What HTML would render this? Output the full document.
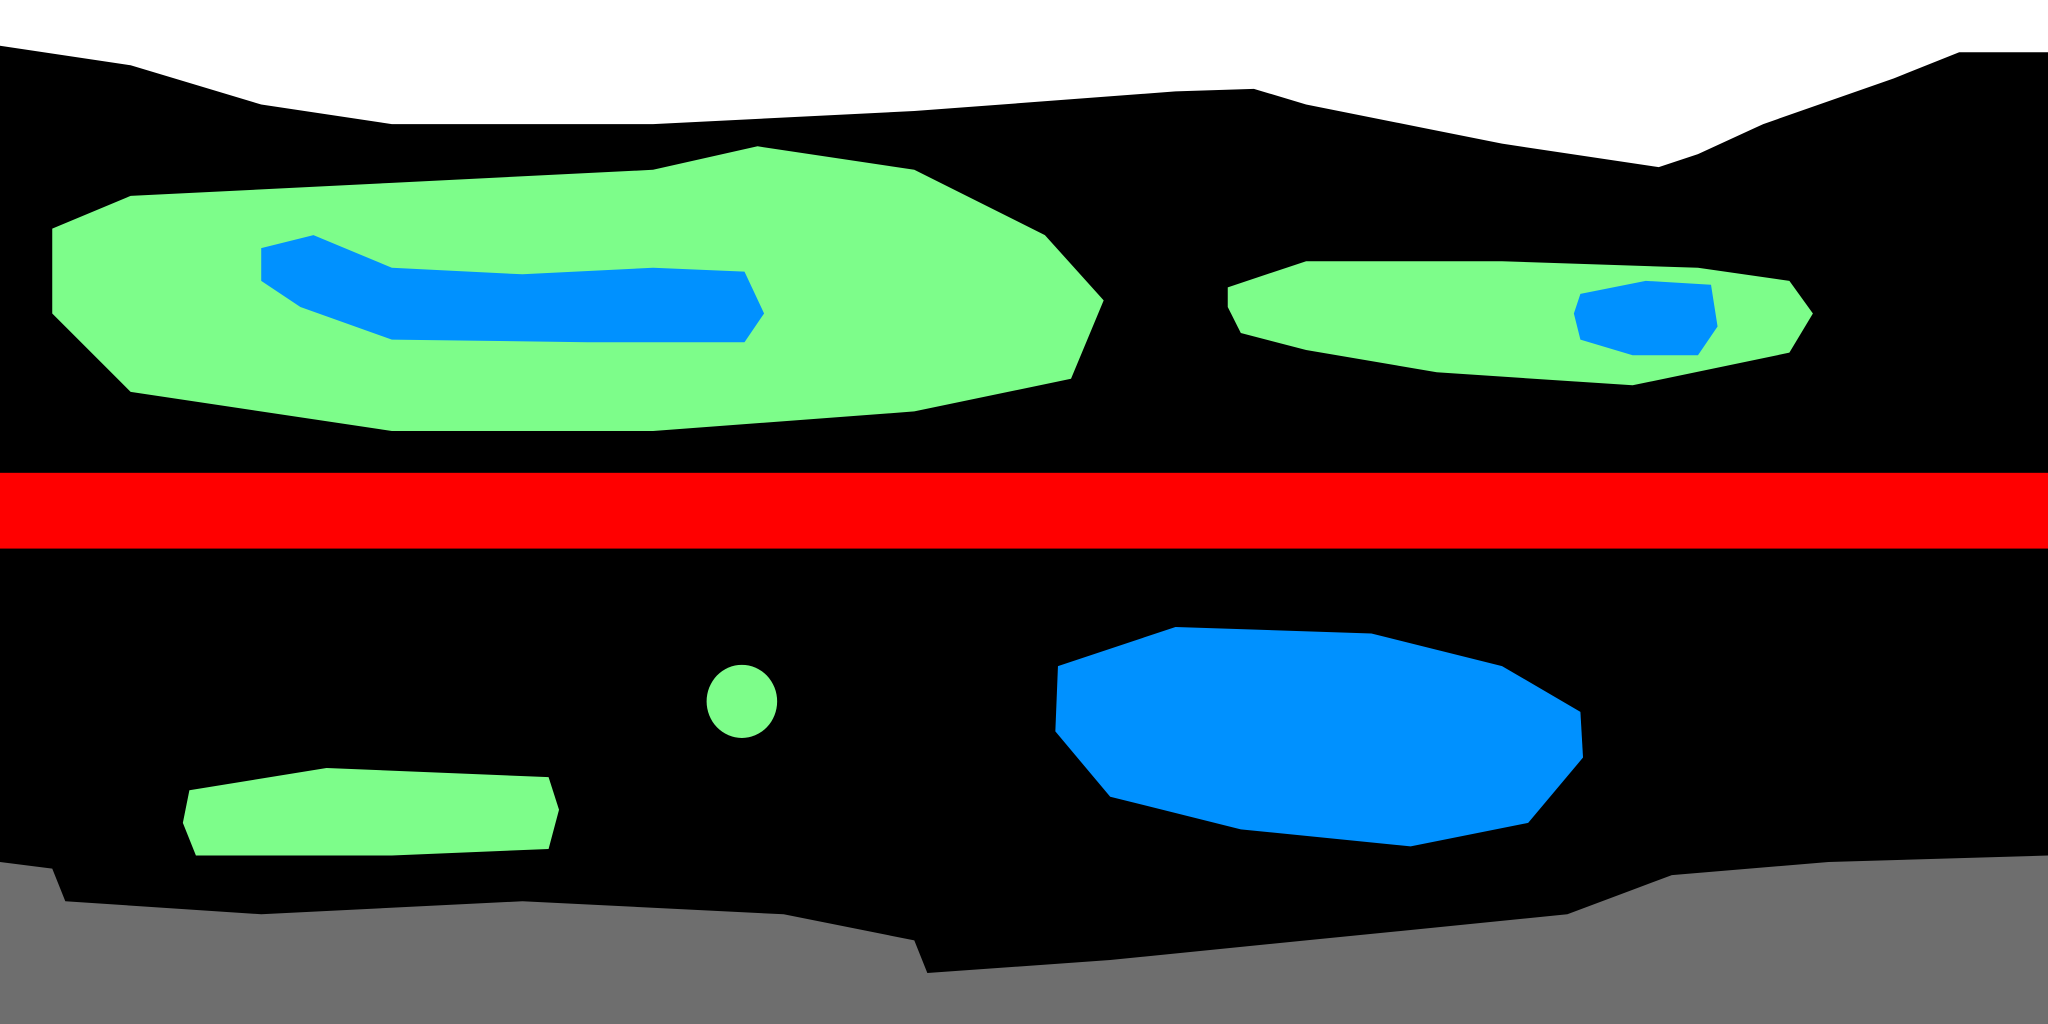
<!DOCTYPE html>
<html>
<head>
<meta charset="utf-8">
<style>
html,body{margin:0;padding:0;background:#000;width:2048px;height:1024px;overflow:hidden}
svg{display:block}
</style>
</head>
<body>
<svg width="2048" height="1024" viewBox="0 0 1568 784" preserveAspectRatio="none" xmlns="http://www.w3.org/2000/svg">
  <rect x="0" y="0" width="1568" height="784" fill="#000000"/>
  <polygon fill="#ffffff"
    points="0,0 1568,0 1568,40 1500,40 1450,60 1350,95 1300,118 1270,128 1150,110 1000,80 960,68 900,70 700,85 500,95 300,95 200,80 100,50 0,35"/>
  <polygon fill="#6e6e6e"
    points="0,660 40,665 50,690 200,700 400,690 600,700 700,720 710,745 850,735 1000,720 1200,700 1280,670 1400,660 1568,655 1568,784 0,784"/>
  <rect x="0" y="362" width="1568" height="58" fill="#ff0000"/>
  <polygon fill="#7dfd8a"
    points="40,175 100,150 300,140 500,130 580,112 700,130 800,180 845,230 820,290 700,315 500,330 300,330 100,300 40,240"/>
  <polygon fill="#0091ff"
    points="200,190 240,180 300,205 400,210 500,205 570,208 585,240 570,262 450,262 300,260 230,235 200,215"/>
  <polygon fill="#7dfd8a"
    points="940,220 1000,200 1150,200 1300,205 1370,215 1388,240 1370,270 1250,295 1100,285 1000,268 950,255 940,235"/>
  <polygon fill="#0091ff"
    points="1210,225 1260,215 1310,218 1315,250 1300,272 1250,272 1210,260 1205,240"/>
  <ellipse cx="568" cy="537" rx="27" ry="28" fill="#7dfd8a"/>
  <polygon fill="#7dfd8a"
    points="145,605 250,588 420,595 428,620 420,650 300,655 150,655 140,630"/>
  <polygon fill="#0091ff"
    points="810,510 900,480 1050,485 1150,510 1210,545 1212,580 1170,630 1080,648 950,635 850,610 808,560"/>
</svg>
</body>
</html>
